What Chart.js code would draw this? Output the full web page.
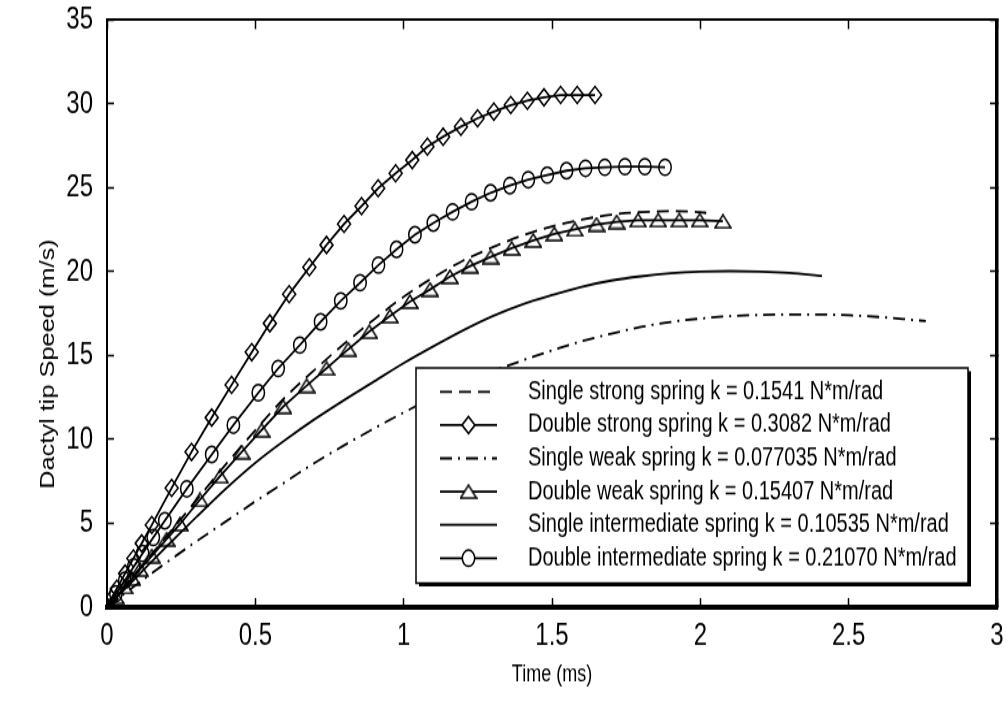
<!DOCTYPE html>
<html>
<head>
<meta charset="utf-8">
<title>Dactyl tip speed</title>
<script src="https://cdn.jsdelivr.net/npm/chart.js@4.4.1/dist/chart.umd.min.js"></script>
<style>
  html, body { margin: 0; padding: 0; background: #fff; }
  #grafico { display: block; }
</style>
</head>
<body>
<!-- the original figure is stretched vertically: draw at 543 px high, show at 706 -->
<canvas id="grafico" width="1007" height="543" style="width:1007px;height:706px"></canvas>
<script>
const FONTE = "'Liberation Sans', Arial, sans-serif";
const FONTE_ESTREITA = "'Liberation Sans Narrow', 'Arial Narrow', 'Liberation Sans', Arial, sans-serif";

const legendas = [
    'Single strong spring k = 0.1541 N*m/rad',
    'Double strong spring k = 0.3082 N*m/rad',
    'Single weak spring k = 0.077035 N*m/rad',
    'Double weak spring k = 0.15407 N*m/rad',
    'Single intermediate spring k = 0.10535 N*m/rad',
    'Double intermediate spring k = 0.21070 N*m/rad'
];

const xTicks = [0, 0.5, 1, 1.5, 2, 2.5, 3];
const yTicks = [0, 5, 10, 15, 20, 25, 30, 35];

// Single strong (dashed)
const singleStrongT = [0, 0.1, 0.2, 0.3, 0.4, 0.5, 0.6, 0.7, 0.8, 0.9, 1.0, 1.1, 1.2, 1.3, 1.4, 1.5, 1.6, 1.7, 1.8, 1.9, 2.0, 2.02];
const singleStrongV = [0, 2.1, 4.2, 6.35, 8.5, 10.55, 12.5, 14.15, 15.7, 17.15, 18.5, 19.65, 20.65, 21.45, 22.15, 22.7, 23.1, 23.4, 23.55, 23.6, 23.55, 23.5];

// Double strong (diamonds)
const doubleStrongT = [0, 0.015, 0.033, 0.061, 0.089, 0.117, 0.151, 0.218, 0.285, 0.353, 0.420, 0.488, 0.549, 0.614, 0.682, 0.740, 0.799, 0.858, 0.914, 0.973, 1.029, 1.080, 1.133, 1.193, 1.249, 1.304, 1.361, 1.417, 1.473, 1.529, 1.585, 1.645];
const doubleStrongV = [0, 0.5, 1.1, 2.0, 2.9, 3.8, 4.9, 7.1, 9.25, 11.3, 13.25, 15.2, 16.92, 18.66, 20.26, 21.59, 22.84, 23.91, 24.97, 25.86, 26.65, 27.45, 28.04, 28.64, 29.14, 29.54, 29.93, 30.19, 30.39, 30.53, 30.53, 30.53];

// Single weak (dash-dot)
const singleWeakT = [0, 0.1, 0.2, 0.3, 0.4, 0.5, 0.6, 0.7, 0.8, 0.9, 1.0, 1.1, 1.2, 1.3, 1.4, 1.5, 1.6, 1.7, 1.8, 1.9, 2.0, 2.1, 2.2, 2.3, 2.4, 2.5, 2.6, 2.7, 2.76];
const singleWeakV = [0, 1.35, 2.65, 3.9, 5.1, 6.3, 7.45, 8.6, 9.65, 10.65, 11.6, 12.5, 13.3, 14.05, 14.7, 15.3, 15.85, 16.3, 16.7, 17.0, 17.2, 17.35, 17.42, 17.45, 17.45, 17.4, 17.3, 17.15, 17.05];

// Double weak (triangles)
const doubleWeakT = [0, 0.03, 0.06, 0.085, 0.111, 0.151, 0.201, 0.246, 0.313, 0.381, 0.454, 0.521, 0.594, 0.673, 0.740, 0.813, 0.884, 0.954, 1.021, 1.089, 1.156, 1.224, 1.293, 1.364, 1.437, 1.508, 1.577, 1.650, 1.718, 1.790, 1.858, 1.929, 1.998, 2.076];
const doubleWeakV = [0, 0.6, 1.2, 1.7, 2.25, 3.05, 4.05, 4.95, 6.4, 7.8, 9.25, 10.55, 11.95, 13.2, 14.23, 15.37, 16.42, 17.35, 18.21, 18.94, 19.70, 20.33, 20.88, 21.39, 21.86, 22.25, 22.52, 22.82, 22.97, 23.07, 23.07, 23.07, 23.07, 23.0];

// Single intermediate (solid)
const singleInterT = [0, 0.1, 0.2, 0.3, 0.4, 0.5, 0.6, 0.7, 0.8, 0.9, 1.0, 1.1, 1.2, 1.3, 1.4, 1.5, 1.6, 1.7, 1.8, 1.9, 2.0, 2.1, 2.2, 2.3, 2.41];
const singleInterV = [0, 1.8, 3.6, 5.35, 7.05, 8.6, 9.95, 11.2, 12.35, 13.45, 14.55, 15.55, 16.5, 17.35, 18.05, 18.6, 19.1, 19.47, 19.72, 19.9, 20.0, 20.03, 20.0, 19.92, 19.75];

// Double intermediate (circles)
const doubleInterT = [0, 0.03, 0.06, 0.09, 0.12, 0.156, 0.195, 0.269, 0.353, 0.426, 0.510, 0.577, 0.650, 0.720, 0.788, 0.853, 0.915, 0.976, 1.038, 1.100, 1.165, 1.229, 1.293, 1.358, 1.420, 1.484, 1.549, 1.613, 1.678, 1.746, 1.813, 1.881];
const doubleInterV = [0, 0.8, 1.6, 2.4, 3.2, 4.15, 5.15, 7.05, 9.1, 10.85, 12.78, 14.23, 15.62, 17.01, 18.26, 19.34, 20.39, 21.33, 22.2, 22.9, 23.57, 24.17, 24.70, 25.13, 25.48, 25.76, 26.02, 26.16, 26.22, 26.26, 26.26, 26.22];

function serie(label, t, v, estilo) {
    return Object.assign({
        label: label,
        data: t.map((x, i) => ({ x: x, y: v[i] })),
        borderColor: '#000',
        borderWidth: 1.8,
        pointRadius: 0,
        pointBorderColor: '#000',
        pointBackgroundColor: 'rgba(0,0,0,0)',
        pointBorderWidth: 1.5,
        tension: 0,
        fill: false
    }, estilo);
}

// the triangles of the original are wide and flat, so draw one marker by hand
function criarTriangulo(fundo) {
    const c = document.createElement('canvas');
    c.width = 18;
    c.height = 12;
    const g = c.getContext('2d');
    g.lineWidth = 1.5;
    g.strokeStyle = '#000';
    g.beginPath();
    g.moveTo(9, 1);
    g.lineTo(17, 11);
    g.lineTo(1, 11);
    g.closePath();
    if (fundo) {
        g.fillStyle = fundo;
        g.fill();
    }
    g.stroke();
    return c;
}

// legend box drawn inside the plot, like the original
const legendaPlugin = {
    id: 'legendaBox',
    afterDatasetsDraw(chart) {
        const ctx = chart.ctx;
        const x0 = 416, y0 = 283, x1 = 968, y1 = 448.5;
        ctx.save();
        ctx.fillStyle = '#000';
        ctx.fillRect(x0 + 3, y0 + 2.5, x1 - x0, y1 - y0);
        ctx.fillStyle = '#fff';
        ctx.fillRect(x0, y0, x1 - x0, y1 - y0);
        ctx.strokeStyle = '#000';
        ctx.lineWidth = 1.5;
        ctx.strokeRect(x0, y0, x1 - x0, y1 - y0);

        ctx.font = `20px ${FONTE}`;
        ctx.textBaseline = 'middle';
        ctx.textAlign = 'left';
        chart.data.datasets.forEach((ds, i) => {
            const y = 301.3 + i * 25.6;
            ctx.strokeStyle = '#000';
            ctx.lineWidth = ds.borderWidth;
            ctx.setLineDash(ds.borderDash || []);
            ctx.beginPath();
            ctx.moveTo(440, y);
            ctx.lineTo(497, y);
            ctx.stroke();
            ctx.setLineDash([]);
            if (ds.pointRadius > 0) {
                ctx.fillStyle = '#fff';
                ctx.lineWidth = ds.pointBorderWidth;
                const estilo = ds.legendaStyle || ds.pointStyle;
                Chart.helpers.drawPoint(ctx, {
                    pointStyle: estilo,
                    radius: ds.pointRadius,
                    borderWidth: ds.pointBorderWidth,
                    rotation: 0
                }, 468.5, y);
            }
            ctx.fillStyle = '#000';
            ctx.fillText(ds.label, 528, y);
        });
        ctx.restore();
    },
    afterDraw(chart) {
        const ctx = chart.ctx;
        ctx.save();
        ctx.translate(49, 280);
        ctx.rotate(-Math.PI / 2);
        ctx.font = `19.5px ${FONTE}`;
        ctx.fillStyle = '#000';
        ctx.textAlign = 'center';
        ctx.textBaseline = 'middle';
        ctx.fillText('Dactyl tip Speed (m/s)', 0, 0);
        ctx.restore();
    }
};

// fixed axis sizes, and no extra room for labels that hang over the ends
function semFolga(scale) {
    scale.paddingLeft = 0;
    scale.paddingRight = 0;
    scale.paddingTop = 0;
    scale.paddingBottom = 0;
}

function eixo(extra) {
    return Object.assign({
        type: 'linear',
        grid: { drawOnChartArea: false, drawTicks: true, tickLength: -7, tickWidth: 1.5, tickColor: '#000', color: '#000' }
    }, extra);
}

function desenharGrafico() {
    const datasets = [
        serie(legendas[0], singleStrongT, singleStrongV, { borderDash: [12, 7], cubicInterpolationMode: 'monotone' }),
        serie(legendas[1], doubleStrongT, doubleStrongV, { pointRadius: 6.5, pointStyle: 'rectRot' }),
        serie(legendas[2], singleWeakT, singleWeakV, { borderDash: [12, 6, 2, 6], cubicInterpolationMode: 'monotone' }),
        serie(legendas[3], doubleWeakT, doubleWeakV, { pointRadius: 7, pointStyle: criarTriangulo(null), legendaStyle: criarTriangulo('#fff') }),
        serie(legendas[4], singleInterT, singleInterV, { cubicInterpolationMode: 'monotone' }),
        serie(legendas[5], doubleInterT, doubleInterV, { pointRadius: 6.2, pointStyle: 'circle' })
    ];

    const ctx = document.getElementById('grafico').getContext('2d');
    new Chart(ctx, {
        type: 'line',
        data: { datasets: datasets },
        options: {
            responsive: false,
            animation: false,
            devicePixelRatio: 1,
            events: [],
            layout: { padding: { left: 0, right: 10, top: 15.4, bottom: 0 } },
            plugins: {
                legend: { display: false },
                tooltip: { enabled: false }
            },
            scales: {
                x: eixo({
                    position: 'bottom',
                    min: xTicks[0],
                    max: xTicks[xTicks.length - 1],
                    border: { display: true, color: '#000', width: 4 },
                    ticks: {
                        stepSize: 0.5,
                        color: '#000',
                        padding: 15,
                        maxRotation: 0,
                        font: { family: FONTE_ESTREITA, size: 24 },
                        callback: (valor) => String(valor)
                    },
                    title: {
                        display: true,
                        text: 'Time (ms)',
                        color: '#000',
                        font: { family: FONTE, size: 18 },
                        padding: { top: 0, bottom: 13 }
                    },
                    afterFit: (scale) => { scale.height = 76.1; semFolga(scale); }
                }),
                y: eixo({
                    position: 'left',
                    min: yTicks[0],
                    max: yTicks[yTicks.length - 1],
                    border: { display: true, color: '#000', width: 2 },
                    ticks: {
                        stepSize: 5,
                        color: '#000',
                        padding: 21,
                        font: { family: FONTE_ESTREITA, size: 24 },
                        callback: (valor) => String(valor)
                    },
                    afterFit: (scale) => { scale.width = 107; semFolga(scale); }
                }),
                x2: eixo({
                    position: 'top',
                    display: true,
                    min: xTicks[0],
                    max: xTicks[xTicks.length - 1],
                    border: { display: true, color: '#000', width: 2 },
                    ticks: { stepSize: 0.5, display: false },
                    afterFit: (scale) => { scale.height = 0; semFolga(scale); }
                }),
                y2: eixo({
                    position: 'right',
                    display: true,
                    min: yTicks[0],
                    max: yTicks[yTicks.length - 1],
                    border: { display: true, color: '#000', width: 3.5 },
                    ticks: { stepSize: 5, display: false },
                    afterFit: (scale) => { scale.width = 0; semFolga(scale); }
                })
            }
        },
        plugins: [legendaPlugin]
    });
}

document.addEventListener('DOMContentLoaded', desenharGrafico);
</script>
</body>
</html>
